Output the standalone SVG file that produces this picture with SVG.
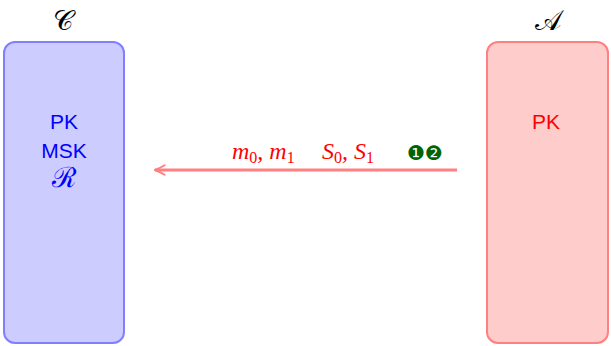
<svg xmlns="http://www.w3.org/2000/svg" width="611" height="346" viewBox="0 0 611 346">
<style>
.lbl{font-family:"Liberation Sans",Arial,sans-serif;font-size:21px;text-anchor:middle}
.math{font-family:"Liberation Serif","DejaVu Serif",serif;font-style:italic;font-size:24px}
.sub{font-style:normal;font-size:16px}
.cal{font-family:"DejaVu Serif","Liberation Serif",serif;font-size:28px;text-anchor:middle}
</style>
<defs>
<marker id="arr" viewBox="0 0 10 10" refX="9" refY="5" markerWidth="4" markerHeight="4" orient="auto" markerUnits="strokeWidth">
<path d="M1,1 Q6,4 9,5 Q6,6 1,9" fill="none" stroke="#ff8080" stroke-width="1.6" stroke-linecap="round"/>
</marker>
</defs>
<g id="challenger">
<rect x="4" y="42" width="120" height="301" rx="11" fill="#ccccff" stroke="#8080ff" stroke-width="2"/>
<text class="cal" x="63" y="30" fill="#000">𝒞</text>
<text class="lbl" x="64" y="129" fill="#0000ff">PK</text>
<text class="lbl" x="64" y="158" fill="#0000ff">MSK</text>
<text class="cal" x="64" y="187" fill="#0000ff" font-size="23">ℛ</text>
</g>
<g id="adversary">
<rect x="487" y="42" width="121" height="301" rx="11" fill="#ffcccc" stroke="#ff8080" stroke-width="2"/>
<text class="cal" x="548" y="30" fill="#000">𝒜</text>
<text class="lbl" x="546" y="129" fill="#ff0000">PK</text>
</g>
<g id="connectors">
<line x1="457" y1="170" x2="155" y2="170" stroke="#ff8080" stroke-width="3" marker-end="url(#arr)"/>
<text class="math" x="232" y="159" fill="#ff0000">m<tspan class="sub" dy="4">0</tspan><tspan dy="-4">, m</tspan><tspan class="sub" dy="4">1</tspan></text>
<text class="math" x="322" y="159" fill="#ff0000">S<tspan class="sub" dy="4">0</tspan><tspan dy="-4">, S</tspan><tspan class="sub" dy="4">1</tspan></text>
<text x="407" y="160" font-family="DejaVu Sans,sans-serif" font-size="20" fill="#006400">❶❷</text>
</g>
</svg>
